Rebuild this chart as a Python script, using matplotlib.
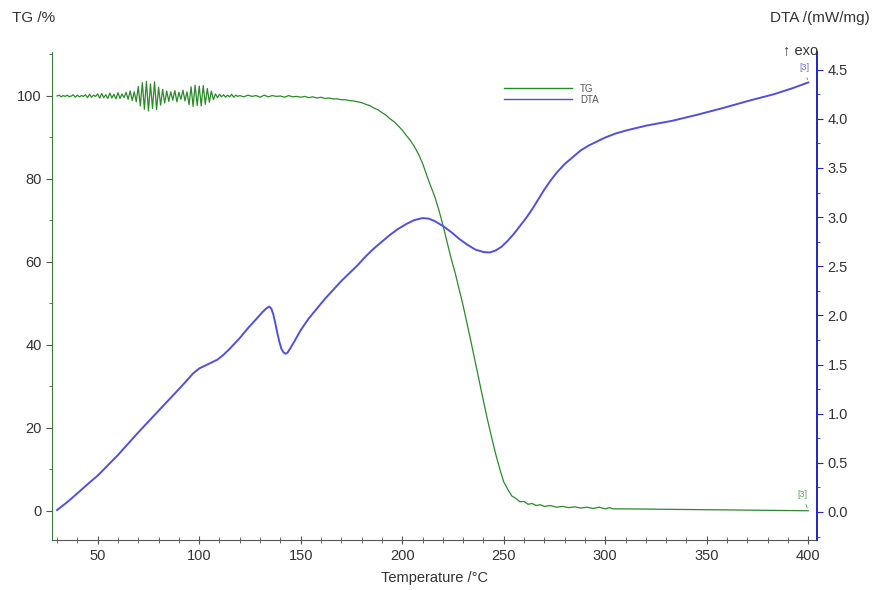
import numpy as np
import matplotlib
matplotlib.use("Agg")
import matplotlib.pyplot as plt
from matplotlib.ticker import MultipleLocator

plt.rcParams['font.family'] = ['Liberation Sans', 'DejaVu Sans']

# TG data (temperature in degC, mass in %)
tg_temp = list(range(30, 121)) + list(range(122, 180, 2)) + list(range(180, 272, 2)) + \
    [273, 276, 279, 282, 285, 288, 291, 294, 297, 300, 302, 304, 310, 320, 340, 360, 380, 400]
tg_mass = [
    100.0, 100.2, 99.8, 100.1, 99.9, 100.2, 99.8, 100.0, 100.3, 99.7,
    100.2, 99.8, 100.1, 99.9, 100.3, 99.6, 100.4, 99.7, 100.2, 99.9,
    100.5, 99.5, 100.6, 99.6, 100.3, 99.4, 100.7, 99.5, 100.4, 99.3,
    100.8, 99.4, 100.5, 99.6, 100.9,
    99.2, 101.2, 98.9, 101.0, 98.6,
    102.3, 97.6, 103.2, 96.8, 103.5, 96.4, 102.9, 97.0, 103.4, 96.7,
    102.1, 97.8, 101.6, 98.3,
    101.2, 98.7, 101.0, 99.0, 101.3, 98.6, 100.9, 99.2, 101.4, 98.8, 101.0,
    97.9, 102.2, 97.5, 102.6, 97.7, 102.4, 97.6, 102.5, 98.0, 101.8,
    98.5, 101.2, 99.1,
    100.5, 99.6, 100.4, 99.8, 100.3, 99.7, 100.2, 99.8, 100.4, 99.7,
    100.2, 99.9, 100.1,
    # 122 - 178
    99.8, 100.2, 99.9, 100.1, 99.7, 100.2, 99.8, 100.1, 99.9, 100.0,
    99.7, 100.1, 99.8, 99.9, 99.7, 99.9, 99.6, 99.8, 99.5, 99.7,
    99.4, 99.5, 99.3, 99.3, 99.1, 99.1, 98.9, 98.8, 98.6,
    # 180 - 270
    98.4, 98.0, 97.7, 97.1, 96.7, 96.0, 95.4, 94.5, 93.8, 92.8,
    91.8, 90.5, 89.3, 87.8, 86.0, 83.8, 81.0, 78.3, 75.8, 72.6,
    69.0, 65.0, 61.0, 57.5, 53.5, 49.5, 45.0, 40.5, 35.8, 31.0,
    26.5, 22.0, 17.8, 13.8, 10.2, 7.0, 5.2, 3.6, 3.0, 2.2,
    2.3, 1.6, 1.8, 1.3, 1.5, 1.1,
    # 273 - 400
    1.3, 0.9, 1.1, 0.8, 1.0, 0.7, 0.9, 0.6, 0.9, 0.5,
    0.8, 0.5, 0.5, 0.45, 0.35, 0.25, 0.15, 0.05,
]

# DTA data (temperature in degC, signal in mW/mg)
dta_temp = [30, 35, 40, 46, 50, 60, 70, 80, 90, 94, 97, 100, 103, 106, 109,
            112, 115, 120, 124, 128, 131, 133, 134.5, 135.5, 136.5, 137.5,
            138.5, 139.5, 140.5, 141.5, 142.5, 143.5, 145, 147, 150, 154, 158,
            162, 166, 170, 174, 178, 182, 186, 190, 194, 198, 202, 206, 210,
            213, 216, 220, 224, 228, 232, 236, 240, 243, 246, 249, 252, 255,
            258, 261, 264, 267, 270, 273, 276, 280, 284, 288, 292, 296, 300,
            305, 310, 320, 333, 345, 358, 370, 383, 392, 400]
dta_val = [0.02, 0.10, 0.19, 0.30, 0.37, 0.58, 0.81, 1.03, 1.25, 1.34, 1.41,
           1.46, 1.49, 1.52, 1.55, 1.60, 1.66, 1.77, 1.87, 1.96, 2.03, 2.07,
           2.09, 2.07, 2.01, 1.92, 1.82, 1.73, 1.66, 1.625, 1.61, 1.62, 1.67,
           1.74, 1.85, 1.97, 2.07, 2.17, 2.26, 2.35, 2.43, 2.51, 2.60, 2.68,
           2.75, 2.82, 2.88, 2.93, 2.97, 2.99, 2.985, 2.96, 2.91, 2.85, 2.78,
           2.72, 2.67, 2.645, 2.64, 2.66, 2.70, 2.76, 2.83, 2.91, 2.99, 3.08,
           3.18, 3.28, 3.37, 3.45, 3.54, 3.61, 3.68, 3.73, 3.77, 3.81, 3.85,
           3.88, 3.93, 3.98, 4.04, 4.11, 4.18, 4.25, 4.31, 4.37]

tg_color = '#2a8a2a'
dta_color = '#5050e0'

fig = plt.figure(figsize=(8.79, 5.90), dpi=100)
ax = fig.add_axes([52 / 879, 50 / 590, 765 / 879, 488 / 590])
ax2 = ax.twinx()

l1, = ax.plot(tg_temp, tg_mass, color=tg_color, lw=0.9, label='TG')
l2, = ax2.plot(dta_temp, dta_val, color=dta_color, lw=1.4, label='DTA')

ax.set_xlim(27.5, 404.3)
ax.set_ylim(-7, 110.6)
ax2.set_ylim(-0.285, 4.68)

ax.xaxis.set_major_locator(MultipleLocator(50))
ax.xaxis.set_minor_locator(MultipleLocator(10))
ax.yaxis.set_major_locator(MultipleLocator(20))
ax.yaxis.set_minor_locator(MultipleLocator(10))
ax2.yaxis.set_major_locator(MultipleLocator(0.5))
ax2.yaxis.set_minor_locator(MultipleLocator(0.25))
ax2.yaxis.set_major_formatter(matplotlib.ticker.FormatStrFormatter('%.1f'))

for a in (ax, ax2):
    a.spines['top'].set_visible(False)
ax.spines['right'].set_visible(False)
ax.spines['left'].set_color('#3d7a3d')
ax.spines['bottom'].set_color('#555555')
ax2.spines['left'].set_visible(False)
ax2.spines['bottom'].set_visible(False)
ax2.spines['right'].set_color('#2424c8')
ax2.spines['right'].set_linewidth(1.4)

ax.tick_params(axis='x', which='both', direction='inout', colors='#555555', labelcolor='#333333', labelsize=10.5)
ax.tick_params(axis='x', which='major', length=6)
ax.tick_params(axis='x', which='minor', length=4)
ax.tick_params(axis='y', which='major', length=4, colors='#555555', labelcolor='#333333', labelsize=10.5)
ax.tick_params(axis='y', which='minor', length=2.5, colors='#555555')
ax2.tick_params(axis='y', which='major', length=4, colors='#2424c8', labelcolor='#333333', labelsize=10.5)
ax2.tick_params(axis='y', which='minor', length=2.5, colors='#2424c8')

ax.set_xlabel('Temperature /°C', fontsize=10.5, color='#333333', labelpad=6)
fig.text(12 / 879, 1 - 18 / 590, 'TG /%', fontsize=11, color='#333333', va='center', ha='left')
fig.text(870 / 879, 1 - 18 / 590, 'DTA /(mW/mg)', fontsize=11, color='#333333', va='center', ha='right')
fig.text(818 / 879, 1 - 50 / 590, '↑ exo', fontsize=10.5, color='#333333', va='center', ha='right')

# end markers
ax2.annotate('[3]', xy=(400, 4.37), xytext=(398, 4.52), fontsize=6.5, color='#7070e0',
             ha='center', va='center', arrowprops=dict(arrowstyle='-', color='#7070e0', lw=0.6))
ax.annotate('[3]', xy=(400, 0.05), xytext=(397, 4.0), fontsize=6.5, color='#60a060',
            ha='center', va='center', arrowprops=dict(arrowstyle='-', color='#60a060', lw=0.6))

leg = ax.legend(handles=[l1, l2], loc='upper left', bbox_to_anchor=(0.585, 0.945),
                frameon=False, fontsize=7, handlelength=7, handletextpad=0.8,
                labelspacing=0.1, borderpad=0)
for t in leg.get_texts():
    t.set_color('#555555')
for h in leg.legend_handles:
    h.set_linewidth(1.0)

fig.savefig('out.png', dpi=100)
